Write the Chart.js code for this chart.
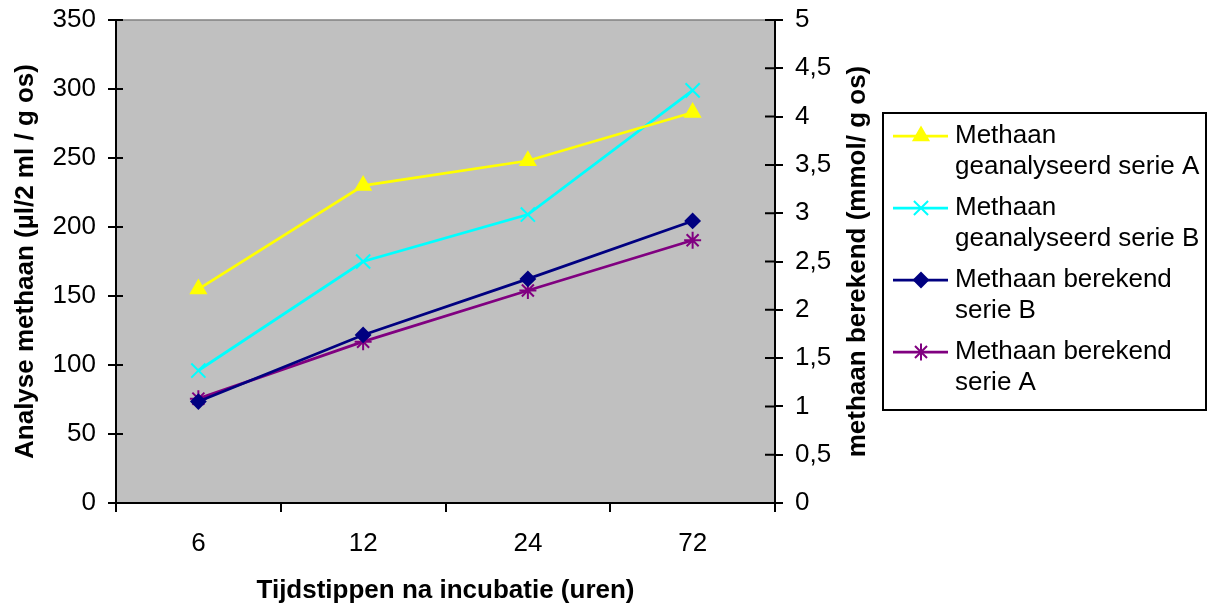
<!DOCTYPE html>
<html>
<head>
<meta charset="utf-8">
<script src="https://cdn.jsdelivr.net/npm/chart.js@4/dist/chart.umd.min.js"></script>
<style>
  html, body { margin: 0; padding: 0; background: #fff; }
  #wrap { width: 1212px; height: 604px; position: relative; }
</style>
</head>
<body>
<div id="wrap"><canvas id="chart" width="1212" height="604"></canvas></div>
<script>
// data
const hours = ['6', '12', '24', '72'];
const geanalyseerdA = [155, 230, 248, 283];   // µl/2 ml / g os (left axis)
const geanalyseerdB = [96, 175, 209, 299];    // µl/2 ml / g os (left axis)
const berekendB = [1.05, 1.74, 2.32, 2.92];   // mmol/ g os (right axis)
const berekendA = [1.08, 1.67, 2.2, 2.72];    // mmol/ g os (right axis)
const leftTicks = [0, 50, 100, 150, 200, 250, 300, 350];
const rightTicks = [0, 0.5, 1, 1.5, 2, 2.5, 3, 3.5, 4, 4.5, 5];

const FONT = '"Liberation Sans", Arial, sans-serif';
const FS = 26;

const series = [
  { label: ['Methaan', 'geanalyseerd serie A'], data: geanalyseerdA, color: '#FFFF00', style: 'triangle', axis: 'y', r: 8.5 },
  { label: ['Methaan', 'geanalyseerd serie B'], data: geanalyseerdB, color: '#00FFFF', style: 'crossRot', axis: 'y', r: 10 },
  { label: ['Methaan berekend', 'serie B'], data: berekendB, color: '#000080', style: 'rectRot', axis: 'y1', r: 7 },
  { label: ['Methaan berekend', 'serie A'], data: berekendA, color: '#800080', style: 'star', axis: 'y1', r: 8.5 },
];

// drop the label overflow padding so the layout padding alone sets the plot box
const noPad = s => { s.paddingTop = 0; s.paddingBottom = 0; s.paddingLeft = 0; s.paddingRight = 0; };

const plotBg = {
  id: 'plotBg',
  beforeDraw(chart) {
    const { ctx, chartArea: a } = chart;
    ctx.save();
    ctx.fillStyle = '#C0C0C0';
    ctx.fillRect(a.left, a.top, a.right - a.left, a.bottom - a.top);
    ctx.strokeStyle = '#808080';
    ctx.lineWidth = 1.5;
    ctx.beginPath();
    ctx.moveTo(a.left, a.top);
    ctx.lineTo(a.right, a.top);
    ctx.stroke();
    ctx.restore();
  },
  afterDraw(chart) {
    const { ctx, chartArea: a } = chart;
    const y = chart.scales.y, y1 = chart.scales.y1;
    ctx.save();
    // inner halves of the y tick marks (they cross the axis)
    ctx.strokeStyle = '#000';
    ctx.lineWidth = 2;
    ctx.beginPath();
    leftTicks.forEach(v => {
      const p = y.getPixelForValue(v);
      ctx.moveTo(a.left, p);
      ctx.lineTo(a.left + 7, p);
    });
    rightTicks.forEach(v => {
      const p = y1.getPixelForValue(v);
      ctx.moveTo(a.right - 10, p);
      ctx.lineTo(a.right, p);
    });
    ctx.stroke();

    // right axis title, reading bottom to top
    ctx.font = 'bold ' + FS + 'px ' + FONT;
    ctx.fillStyle = '#000';
    ctx.textAlign = 'center';
    ctx.textBaseline = 'middle';
    ctx.translate(858, (y1.top + y1.bottom) / 2);
    ctx.rotate(-Math.PI / 2);
    ctx.fillText('methaan berekend (mmol/ g os)', 0, 0);
    ctx.restore();

    // legend
    ctx.save();
    const bx = 883, by = 113, bw = 323, bh = 297;
    ctx.fillStyle = '#fff';
    ctx.fillRect(bx, by, bw, bh);
    ctx.strokeStyle = '#000';
    ctx.lineWidth = 2;
    ctx.strokeRect(bx, by, bw, bh);
    ctx.font = FS + 'px ' + FONT;
    ctx.textAlign = 'left';
    ctx.textBaseline = 'middle';
    const rows = [136, 208, 280, 352];
    series.forEach((s, i) => {
      const ry = rows[i];
      ctx.strokeStyle = s.color;
      ctx.lineWidth = 2.75;
      ctx.beginPath();
      ctx.moveTo(893, ry);
      ctx.lineTo(948, ry);
      ctx.stroke();
      ctx.fillStyle = s.color;
      ctx.lineWidth = 2;
      Chart.helpers.drawPoint(ctx, { pointStyle: s.style, radius: s.r, rotation: 0, borderWidth: 2 }, 921, ry);
      ctx.fillStyle = '#000';
      s.label.forEach((t, j) => ctx.fillText(t, 955, ry + j * 31));
    });
    ctx.restore();
  }
};

new Chart(document.getElementById('chart'), {
  type: 'line',
  data: {
    labels: hours,
    datasets: series.map(s => ({
      label: s.label.join(' '),
      data: s.data,
      yAxisID: s.axis,
      borderColor: s.color,
      backgroundColor: s.color,
      borderWidth: 2.75,
      pointStyle: s.style,
      pointRadius: s.r,
      pointHoverRadius: s.r,
      pointBorderWidth: 2,
      pointBorderColor: s.color,
      pointBackgroundColor: s.color,
      tension: 0,
      fill: false,
    })),
  },
  options: {
    responsive: false,
    animation: false,
    devicePixelRatio: 1,
    layout: { padding: { top: 20, right: 337, bottom: 0, left: 0 } },
    plugins: {
      legend: { display: false },
      tooltip: { enabled: false },
    },
    scales: {
      x: {
        type: 'category',
        offset: true,
        border: { color: '#000', width: 2 },
        grid: { offset: true, drawOnChartArea: false, drawTicks: true, tickLength: 9, color: '#000', lineWidth: 2 },
        ticks: { color: '#000', font: { family: FONT, size: FS }, padding: 16 },
        title: { display: true, text: 'Tijdstippen na incubatie (uren)', color: '#000', font: { family: FONT, size: FS, weight: 'bold', lineHeight: 1 }, padding: { top: 0, bottom: 0 } },
        afterFit: s => { s.height = 101; noPad(s); },
      },
      y: {
        position: 'left',
        min: 0, max: 350,
        afterBuildTicks: s => { s.ticks = leftTicks.map(v => ({ value: v })); },
        border: { color: '#000', width: 2 },
        grid: { drawOnChartArea: false, drawTicks: true, tickLength: 8, color: '#000', lineWidth: 2 },
        ticks: { color: '#000', font: { family: FONT, size: FS }, padding: 12 },
        title: { display: true, text: 'Analyse methaan (µl/2 ml / g os)', color: '#000', font: { family: FONT, size: FS, weight: 'bold', lineHeight: 1 }, padding: { top: 13, bottom: 0 } },
        afterFit: s => { s.width = 116; noPad(s); },
      },
      y1: {
        position: 'right',
        min: 0, max: 5,
        afterBuildTicks: s => { s.ticks = rightTicks.map(v => ({ value: v })); },
        border: { color: '#000', width: 2 },
        grid: { drawOnChartArea: false, drawTicks: true, tickLength: 8, color: '#000', lineWidth: 2 },
        ticks: { color: '#000', font: { family: FONT, size: FS }, padding: 12, callback: v => String(v).replace('.', ',') },
        afterFit: s => { s.width = 100; noPad(s); },
      },
    },
  },
  plugins: [plotBg],
});
</script>
</body>
</html>
